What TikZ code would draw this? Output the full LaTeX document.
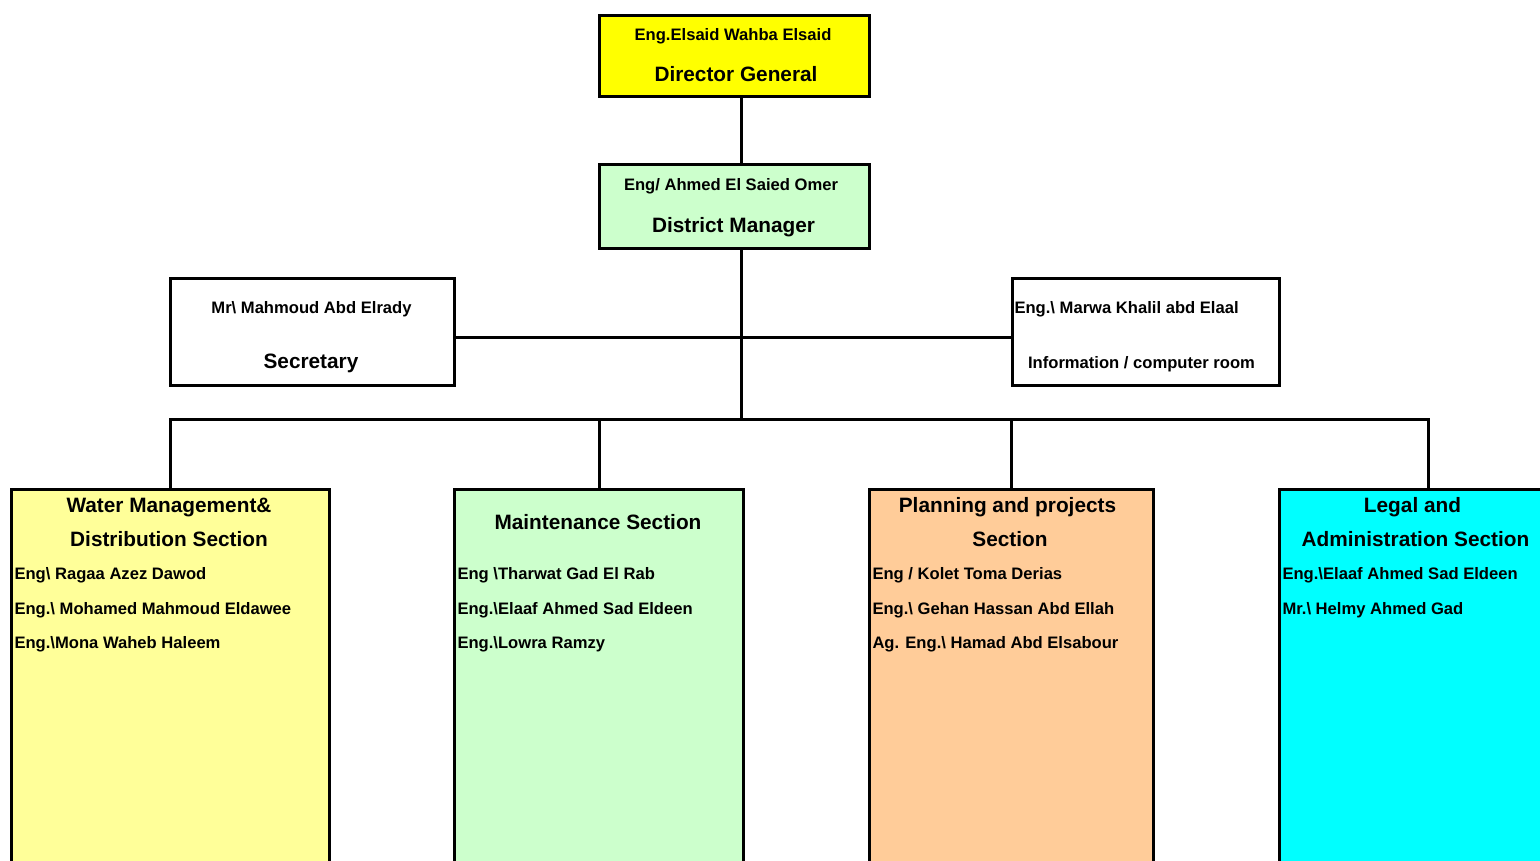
\documentclass[tikz,border=0pt]{standalone}
\usepackage{fontspec}
\setmainfont{Liberation Sans}
\usetikzlibrary{positioning}

\definecolor{dgyellow}{HTML}{FFFF00}
\definecolor{mgreen}{HTML}{CCFFCC}
\definecolor{wyellow}{HTML}{FFFF99}
\definecolor{porange}{HTML}{FFCC99}
\definecolor{lcyan}{HTML}{00FFFF}

\begin{document}
\begin{tikzpicture}[x = 1pt, y = -1pt, % pixel grid, y going down
                line width = 3pt, % heavy lines as in the chart
                line join = miter
            ]

            \tikzstyle{every node}=[inner sep = 0pt]
            \tikzstyle{box}=[draw = black, rectangle, anchor = north west]
            \tikzstyle{small}=[font = \fontsize{16.6}{20}\selectfont\bfseries, anchor = base]
            \tikzstyle{big}=[font = \fontsize{20.8}{25}\selectfont\bfseries, anchor = base]
            \tikzstyle{staff}=[small, anchor = base west]

            \useasboundingbox (0,0) rectangle (1540,860);
            \clip (0,0) rectangle (1540,860);

            % boxes
            \node (dg) [box, fill = dgyellow, minimum width = 270pt, minimum height = 81pt] at (598,14) {};
            \node (dm) [box, fill = mgreen, minimum width = 270pt, minimum height = 84pt] at (598,163) {};
            \node (sec) [box, fill = white, minimum width = 284pt, minimum height = 107pt] at (169,277) {};
            \node (info) [box, fill = white, minimum width = 267pt, minimum height = 107pt] at (1011,277) {};
            \node (water) [box, fill = wyellow, minimum width = 318pt, minimum height = 420pt] at (10,488) {};
            \node (maint) [box, fill = mgreen, minimum width = 289pt, minimum height = 420pt] at (453,488) {};
            \node (plan) [box, fill = porange, minimum width = 284pt, minimum height = 420pt] at (868,488) {};
            \node (legal) [box, fill = lcyan, minimum width = 298pt, minimum height = 420pt] at (1278,488) {};

            \coordinate (trunk) at (741,419);
            \coordinate (side) at (741,337);

            % connectors
            \draw (dg.south -| trunk) -- (dm.north -| trunk);
            \draw (dm.south -| trunk) -- (trunk);
            \draw (sec.east |- side) -- (info.west |- side);
            \draw (water.north) |- (legal.north |- trunk) -- (legal.north);
            \draw (maint.north) -- (maint.north |- trunk);
            \draw (plan.north) -- (plan.north |- trunk);

            % texts
            \node (dgname) [small] at (733,40) {Eng.Elsaid Wahba Elsaid};
            \node (dgtitle) [big] at (736,81.5) {Director General};
            \node (dmname) [small] at (731,190) {Eng/ Ahmed El Saied Omer};
            \node (dmtitle) [big] at (733.5,232) {District Manager};
            \node (secname) [small] at (311.5,313) {Mr\textbackslash{} Mahmoud Abd Elrady};
            \node (sectitle) [big] at (311,368.5) {Secretary};
            \node (infoname) [staff] at (1013,313) {Eng.\textbackslash{} Marwa Khalil abd Elaal};
            \node (infotitle) [small] at (1141.5,368.5) {Information / computer room};

            \node (watertitle) [big] at (169,512.5) {Water Management\&};
            \node (watertitleb) [big] at (169,546.5) {Distribution Section};
            \node (w1) [staff] at (13,579) {Eng\textbackslash{} Ragaa Azez Dawod};
            \node (w2) [staff] at (13,614) {Eng.\textbackslash{} Mohamed Mahmoud Eldawee};
            \node (w3) [staff] at (13,648) {Eng.\textbackslash{}Mona Waheb Haleem};

            \node (mainttitle) [big] at (598,529.5) {Maintenance Section};
            \node (m1) [staff] at (456,579) {Eng \textbackslash{}Tharwat Gad El Rab};
            \node (m2) [staff] at (456,614) {Eng.\textbackslash{}Elaaf Ahmed Sad Eldeen};
            \node (m3) [staff] at (456,648) {Eng.\textbackslash{}Lowra Ramzy};

            \node (plantitle) [big] at (1007.5,512.5) {Planning and projects};
            \node (plantitleb) [big] at (1010,546.5) {Section};
            \node (p1) [staff] at (871,579) {Eng / Kolet Toma Derias};
            \node (p2) [staff] at (871,614) {Eng.\textbackslash{} Gehan Hassan Abd Ellah};
            \node (p3) [staff] at (871,648) {Ag. Eng.\textbackslash{} Hamad Abd Elsabour};

            \node (legaltitle) [big] at (1412.5,512.5) {Legal and};
            \node (legaltitleb) [big] at (1415.5,546.5) {Administration Section};
            \node (l1) [staff] at (1281,579) {Eng.\textbackslash{}Elaaf Ahmed Sad Eldeen};
            \node (l2) [staff] at (1281,614) {Mr.\textbackslash{} Helmy Ahmed Gad};
\end{tikzpicture}
\end{document}
